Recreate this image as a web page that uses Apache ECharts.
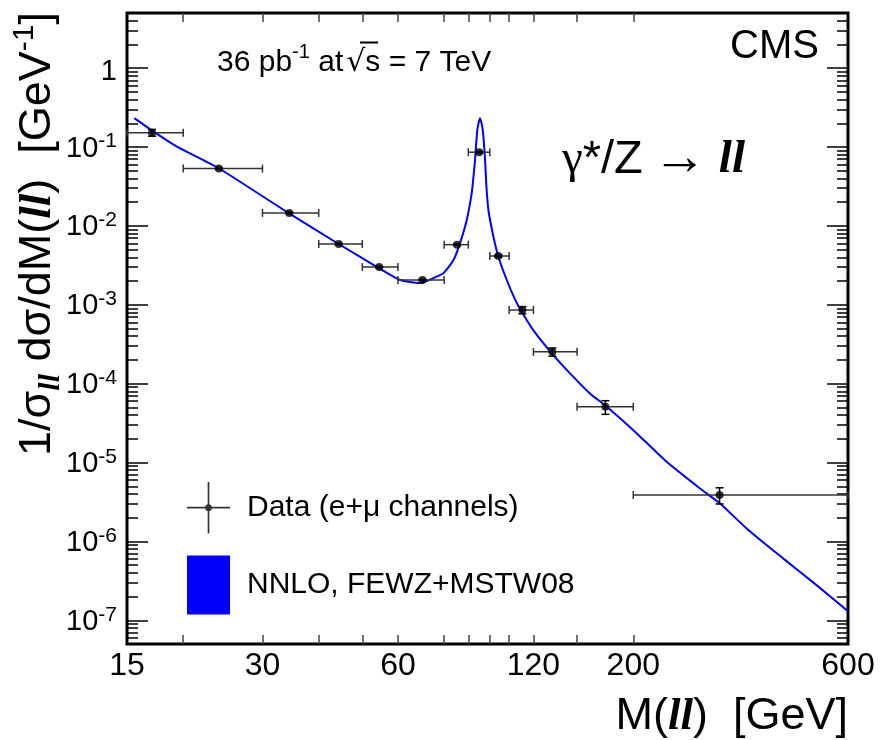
<!DOCTYPE html>
<html>
<head>
<meta charset="utf-8">
<title>Drell-Yan mass spectrum</title>
<script src="https://cdn.jsdelivr.net/npm/echarts@6.0.0/dist/echarts.min.js"></script>
<style>
  html, body { margin: 0; padding: 0; background: #ffffff; }
  #chart { width: 880px; height: 740px; }
</style>
</head>
<body>
<div id="chart"></div>
<script>
// ---- Theory curve (NNLO, FEWZ+MSTW08) ----
const curveMass = [15.57, 17.05, 19.37, 23.98, 33.9, 44.3, 54.5, 60.7, 67.2, 74.4, 75.7, 79.7, 82.4, 85.3, 87.5, 88.3, 89.0, 90.06, 91.3, 92.6, 93.7, 94.3, 95.3, 97.8, 100.3, 104.7, 109.2, 113.0, 119.9, 131.8, 144.7, 160.2, 173.1, 200.1, 237.3, 281.4, 311.8, 357.6, 431.1, 511.6, 600];
const curveXsec = [0.232, 0.1615, 0.1012, 0.0538, 0.01514, 0.00589, 0.00290, 0.00206, 0.001885, 0.00238, 0.00250, 0.00369, 0.00601, 0.01189, 0.0259, 0.0421, 0.0686, 0.165, 0.232, 0.165, 0.0686, 0.033, 0.0159, 0.00729, 0.00407, 0.00206, 0.00117, 0.000815, 0.000477, 0.000242, 0.000135, 7.51e-5, 5.33e-5, 2.57e-5, 1.02e-5, 4.68e-6, 3.02e-6, 1.45e-6, 6.05e-7, 2.77e-7, 1.30e-7];

// ---- Data points (e+mu channels) ----
const dataMass = [17.05, 24.0, 34.4, 44.3, 54.5, 68.0, 81.2, 90.9, 100.3, 113.4, 132.2, 173.4, 311];
const dataXsec = [0.152, 0.0532, 0.01458, 0.00589, 0.00301, 0.00206, 0.00578, 0.0859, 0.00415, 0.000857, 0.000253, 5.08e-5, 3.88e-6];
const dataErr  = [0.015, 0.001, 0.0003, 0.00012, 0.00006, 0.00004, 0.00012, 0.0017, 0.00012, 0.00009, 0.00003, 1.0e-5, 0.9e-6];
const binLow   = [15, 20, 30, 40, 50, 60, 76, 86, 96, 106, 120, 150, 200];
const binHigh  = [20, 30, 40, 50, 60, 76, 86, 96, 106, 120, 150, 200, 600];

// ---- Axis ticks / labels ----
const xLabelValues = [15, 30, 60, 120, 200, 600];
const xTickValues = [20, 30, 40, 50, 60, 76, 86, 96, 106, 120, 150, 200];
const yLabelExponents = [-7, -6, -5, -4, -3, -2, -1, 0];
const yMinorMantissas = [2, 3, 4, 5, 6, 7, 8, 9];
const xRange = [15, 600];
const yRange = [5e-8, 5];

const L = Math.log10;
const SANS = '"Liberation Sans", Arial, Helvetica, sans-serif';
const SERIF = '"Liberation Serif", "Times New Roman", serif';
const DEJAVU = '"DejaVu Sans", sans-serif';

const yMinorLog = [];
for (let k = -8; k <= 0; k++) {
  yMinorMantissas.forEach(function (m) {
    const v = m * Math.pow(10, k);
    if (v > yRange[0] * 1.0001 && v < yRange[1] * 0.9999) yMinorLog.push(L(v));
  });
}

const crossIcon = 'path://M0,23.7H41V25.3H0Z M19.7,0H21.3V49H19.7Z M23.7,24.5A3.2,3.2,0,1,1,17.3,24.5A3.2,3.2,0,1,1,23.7,24.5Z';

const chart = echarts.init(document.getElementById('chart'), null, { renderer: 'canvas' });

function xTickAxis(position, showLabels) {
  return {
    type: 'value', gridIndex: 0, position: position,
    min: L(xRange[0]), max: L(xRange[1]),
    axisLine: { show: false, onZero: false },
    splitLine: { show: false },
    axisTick: { show: true, inside: true, length: 9, customValues: xTickValues.map(L),
                lineStyle: { color: '#444', width: 1.5 } },
    axisLabel: { show: showLabels, customValues: xLabelValues.map(L), margin: 6,
                 formatter: function (v) { return String(Math.round(Math.pow(10, v))); },
                 fontSize: 32, fontFamily: SANS, color: '#000' }
  };
}
function yTickAxis(position, values, len, showLabels) {
  return {
    type: 'value', gridIndex: 0, position: position,
    min: L(yRange[0]), max: L(yRange[1]),
    axisLine: { show: false, onZero: false },
    splitLine: { show: false },
    axisTick: { show: true, inside: true, length: len, customValues: values,
                lineStyle: { color: '#000', width: 1.5 } },
    axisLabel: {
      show: showLabels, customValues: yLabelExponents, margin: 10, color: '#000',
      formatter: function (v) {
        const e = Math.round(v);
        return e === 0 ? '{o|1}' : '{b|10}{s|' + e + '}';
      },
      rich: {
        b: { fontSize: 29, fontFamily: SANS, color: '#000', lineHeight: 32, verticalAlign: 'bottom' },
        o: { fontSize: 29, fontFamily: SANS, color: '#000', lineHeight: 32, padding: [8, 0, 0, 0] },
        s: { fontSize: 21, fontFamily: SANS, color: '#000', lineHeight: 28, verticalAlign: 'top' }
      }
    }
  };
}

const option = {
  animation: false,
  backgroundColor: '#ffffff',
  grid: { left: 127, right: 32, top: 13, bottom: 96, show: true,
          borderColor: '#000', borderWidth: 3, backgroundColor: 'transparent' },
  xAxis: [
    { type: 'log', logBase: 10, min: xRange[0], max: xRange[1], show: false, gridIndex: 0 },
    xTickAxis('bottom', true),
    xTickAxis('top', false)
  ],
  yAxis: [
    { type: 'log', logBase: 10, min: yRange[0], max: yRange[1], show: false, gridIndex: 0 },
    yTickAxis('left', yLabelExponents, 21, true),
    yTickAxis('left', yMinorLog, 11, false),
    yTickAxis('right', yLabelExponents, 21, false),
    yTickAxis('right', yMinorLog, 11, false)
  ],
  legend: {
    orient: 'vertical', left: 187, top: 482, padding: 0,
    itemWidth: 43, itemHeight: 59, itemGap: 22,
    selectedMode: false, symbolKeepAspect: true,
    textStyle: { fontSize: 30, fontFamily: SANS, color: '#000', padding: [0, 0, 0, 12] },
    data: [
      { name: 'Data (e+\u03bc channels)', icon: crossIcon },
      { name: 'NNLO, FEWZ+MSTW08', icon: 'rect' }
    ]
  },
  graphic: [
    { type: 'text', x: 38, y: 234, rotation: Math.PI / 2,
      style: {
        text: '{t|1/\u03c3}{sub|ll}{t| d\u03c3/dM(}{l|ll}{t|)  [GeV}{sup|-1}{t|]}',
        align: 'center', verticalAlign: 'middle', fill: '#000',
        rich: {
          t: { fontSize: 45, fontFamily: SANS, fill: '#000', lineHeight: 56 },
          l: { fontSize: 45, fontFamily: SERIF, fontStyle: 'italic', fontWeight: 'bold', fill: '#000', lineHeight: 56 },
          sub: { fontSize: 30, fontFamily: SERIF, fontStyle: 'italic', fontWeight: 'bold', fill: '#000', lineHeight: 30, verticalAlign: 'bottom' },
          sup: { fontSize: 30, fontFamily: SANS, fill: '#000', lineHeight: 30, verticalAlign: 'top' }
        }
      } },
    { type: 'text', x: 848, y: 717,
      style: {
        text: '{t|M(}{l|ll}{t|)  [GeV]}',
        align: 'right', verticalAlign: 'middle', fill: '#000',
        rich: {
          t: { fontSize: 45, fontFamily: SANS, fill: '#000' },
          l: { fontSize: 45, fontFamily: SERIF, fontStyle: 'italic', fontWeight: 'bold', fill: '#000' }
        }
      } },
    { type: 'text', x: 819, y: 47,
      style: { text: 'CMS', align: 'right', verticalAlign: 'middle', fontSize: 40, fontFamily: SANS, fill: '#000' } },
    { type: 'text', x: 217, y: 60,
      style: {
        text: '{a|36 pb}{s|-1}{a| at}{q|\u221a}{a|s = 7 TeV}',
        align: 'left', verticalAlign: 'middle', fill: '#000',
        rich: {
          a: { fontSize: 30, fontFamily: SANS, fill: '#000', lineHeight: 36, verticalAlign: 'bottom' },
          q: { fontSize: 30, fontFamily: DEJAVU, fill: '#000', lineHeight: 36, verticalAlign: 'bottom', padding: [0, 0, 0, 3] },
          s: { fontSize: 20, fontFamily: SANS, fill: '#000', lineHeight: 26, verticalAlign: 'top' }
        }
      } },
    // overline of the square-root sign over "s"
    { type: 'line', shape: { x1: 360, y1: 42.5, x2: 378, y2: 42.5 }, style: { stroke: '#000', lineWidth: 2 } },
    { type: 'text', x: 562, y: 160,
      style: {
        text: '{g|\u03b3}{t|*/Z}{r|\u2192}{l|ll}',
        align: 'left', verticalAlign: 'middle', fill: '#000',
        rich: {
          g: { fontSize: 47, fontFamily: SERIF, fill: '#000' },
          t: { fontSize: 47, fontFamily: SANS, fill: '#000' },
          r: { fontSize: 54, fontFamily: SERIF, fill: '#000', padding: [0, 12, 0, 10] },
          l: { fontSize: 47, fontFamily: SERIF, fontStyle: 'italic', fontWeight: 'bold', fill: '#000' }
        }
      } }
  ],
  series: [
    {
      name: 'NNLO, FEWZ+MSTW08', type: 'line', xAxisIndex: 0, yAxisIndex: 0,
      data: curveMass.map(function (m, i) { return [m, curveXsec[i]]; }),
      showSymbol: false, symbol: 'none', color: '#0000ff',
      smooth: 0.2,
      itemStyle: { color: '#0000ff' },
      lineStyle: { color: '#0000ff', width: 2 }, z: 2
    },
    {
      name: 'errors', type: 'custom', xAxisIndex: 0, yAxisIndex: 0,
      data: dataMass.map(function (m, i) { return [m, dataXsec[i], binLow[i], binHigh[i], dataErr[i]]; }),
      encode: { x: 0, y: 1 }, z: 3,
      renderItem: function (params, api) {
        const x = api.value(0), y = api.value(1), lo = api.value(2), hi = api.value(3), e = api.value(4);
        const l = api.coord([lo, y]);
        const r = api.coord([hi, y]);
        const t = api.coord([x, y + e]);
        const b = api.coord([x, y - e]);
        const cap = 4;
        const hs = { stroke: '#333', lineWidth: 1.5 };
        const vs = { stroke: '#000', lineWidth: 1.5 };
        return { type: 'group', children: [
          { type: 'line', shape: { x1: l[0], y1: l[1], x2: r[0], y2: r[1] }, style: hs },
          { type: 'line', shape: { x1: l[0], y1: l[1] - cap, x2: l[0], y2: l[1] + cap }, style: hs },
          { type: 'line', shape: { x1: r[0], y1: r[1] - cap, x2: r[0], y2: r[1] + cap }, style: hs },
          { type: 'line', shape: { x1: t[0], y1: t[1], x2: b[0], y2: b[1] }, style: vs },
          { type: 'line', shape: { x1: t[0] - cap, y1: t[1], x2: t[0] + cap, y2: t[1] }, style: vs },
          { type: 'line', shape: { x1: b[0] - cap, y1: b[1], x2: b[0] + cap, y2: b[1] }, style: vs }
        ] };
      }
    },
    {
      name: 'Data (e+\u03bc channels)', type: 'scatter', xAxisIndex: 0, yAxisIndex: 0,
      data: dataMass.map(function (m, i) { return [m, dataXsec[i]]; }),
      symbol: 'circle', symbolSize: 8, itemStyle: { color: '#000' }, z: 4
    }
  ]
};
chart.setOption(option);
</script>
</body>
</html>
